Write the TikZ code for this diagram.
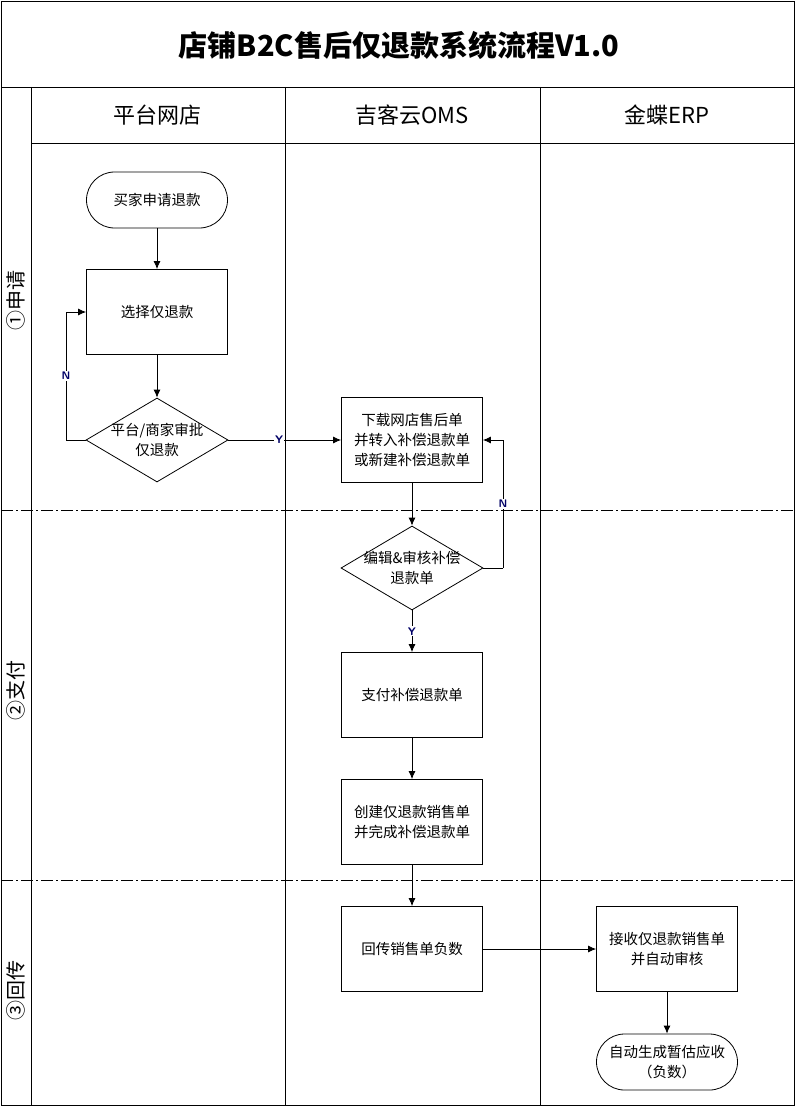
\documentclass[tikz,border=0pt]{standalone}
\usepackage{fontspec}
\setmainfont{Noto Sans CJK SC}
\usetikzlibrary{shapes.geometric, arrows.meta, calc}
\tikzstyle{process} = [rectangle, draw, fill=white, minimum width=141pt,
    minimum height=85pt, align=center, font=\fontsize{14.5}{20}\selectfont]
\tikzstyle{decision} = [diamond, draw, fill=white, minimum width=142pt,
    minimum height=84pt, inner sep=-6pt, aspect=1.69, align=center, font=\fontsize{14.5}{20}\selectfont]
\tikzstyle{terminal} = [rectangle, rounded corners=28pt, draw, fill=white,
    minimum width=141pt, minimum height=56pt, align=center, font=\fontsize{14.5}{20}\selectfont]
\tikzstyle{line} = [draw, -{Latex[length=8pt,width=7pt]}]
\tikzstyle{yn} = [fill=white, inner sep=1pt, text=blue!40!black, font=\sffamily\bfseries\fontsize{11}{12}\selectfont]

\begin{document}
\begin{tikzpicture}[x=1pt, y=-1pt, line width=0.8pt,
    lane/.style={font=\fontsize{22}{26}\selectfont},
    phase/.style={rotate=90, font=\fontsize{20}{24}\selectfont},
    sep/.style={dash pattern=on 12pt off 3pt on 2pt off 3pt, line width=0.7pt}
    ]
    % Frame
    \useasboundingbox (0,0) rectangle (795,1107);
    \draw (1,1) rectangle (794,1105);
    \draw (1,87) -- (794,87);
    \draw (31,143) -- (794,143);
    \draw (31,87) -- (31,1105);
    \draw (285,87) -- (285,1105);
    \draw (540,87) -- (540,1105);
    \draw [sep] (1,510) -- (794,510);
    \draw [sep] (1,880) -- (794,880);
    \node [font=\bfseries\fontsize{29}{32}\selectfont] (title) at (399,45) {店铺B2C售后仅退款系统流程V1.0};
    \node [lane] (shop) at (157,115) {平台网店};
    \node [lane] (oms) at (412,115) {吉客云OMS};
    \node [lane] (erp) at (667,115) {金蝶ERP};
    \node [phase] (ph1) at (16,300) {①申请};
    \node [phase] (ph2) at (16,690) {②支付};
    \node [phase] (ph3) at (16,990) {③回传};

    % Nodes
    \node [terminal] (apply) at (157,200) {买家申请退款};
    \node [process] (choose) at (157,312) {选择仅退款};
    \node [decision] (approve) at (157,440) {平台/商家审批\\仅退款};
    \node [process] (download) at (412,440) {下载网店售后单\\并转入补偿退款单\\或新建补偿退款单};
    \node [decision] (audit) at (412,568) {编辑\&审核补偿\\退款单};
    \node [process] (pay) at (412,695) {支付补偿退款单};
    \node [process] (create) at (412,822) {创建仅退款销售单\\并完成补偿退款单};
    \node [process] (back) at (412,949) {回传销售单负数};
    \node [process] (receive) at (667,949) {接收仅退款销售单\\并自动审核};
    \node [terminal] (auto) at (667,1062) {自动生成暂估应收\\（负数）};
    \coordinate (nleft) at (66,440);
    \coordinate (nright) at (503,568);

    % Edges
    \path [line] (apply) -- (choose);
    \path [line] (choose) -- (approve);
    \draw (approve.west) -- (nleft);
    \path [line] (nleft) |- node [yn, pos=0.25] {N} (choose.west);
    \path [line] (approve) -- node [yn, pos=0.45] {Y} (download);
    \path [line] (download) -- (audit);
    \draw (audit.east) -- (nright);
    \path [line] (nright) |- node [yn, pos=0.25] {N} (download.east);
    \path [line] (audit) -- node [yn] {Y} (pay);
    \path [line] (pay) -- (create);
    \path [line] (create) -- (back);
    \path [line] (back) -- (receive);
    \path [line] (receive) -- (auto);
\end{tikzpicture}
\end{document}
